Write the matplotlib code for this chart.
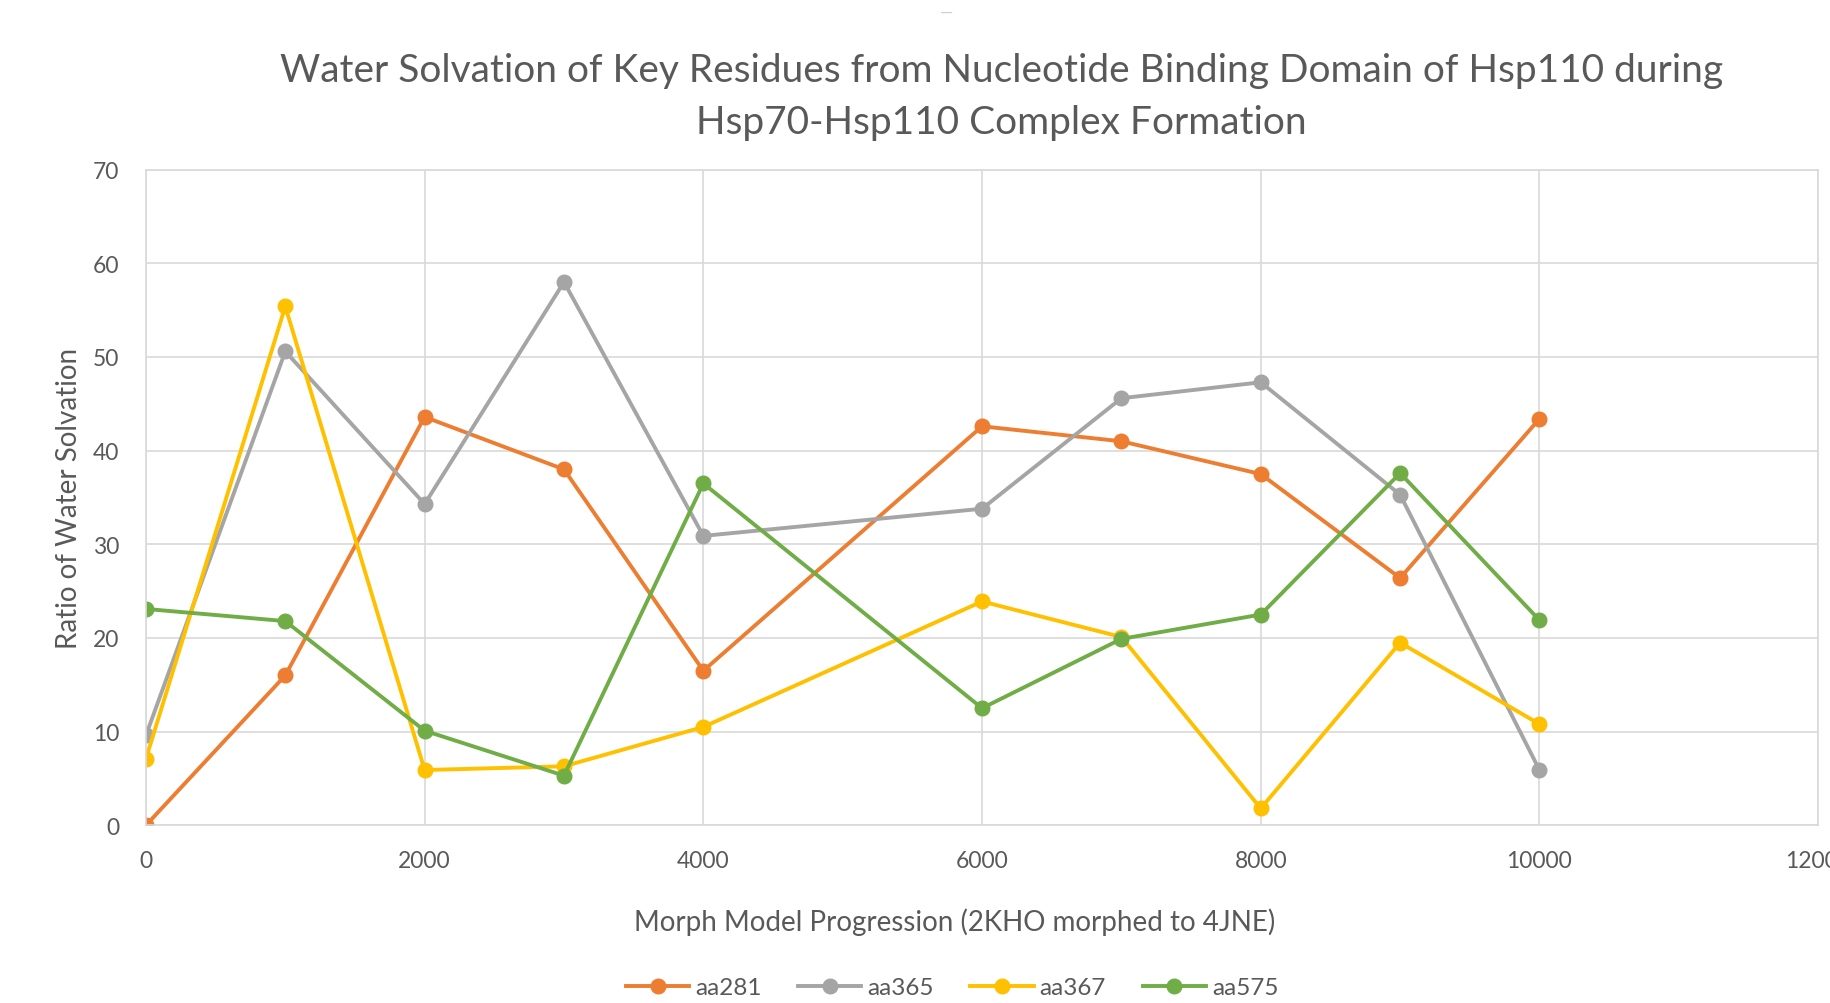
import matplotlib.pyplot as plt

plt.rcParams['font.family'] = ['Lato', 'DejaVu Sans']

steps = [0, 1000, 2000, 3000, 4000, 6000, 7000, 8000, 9000, 10000]
aa281 = [0, 16, 43.6, 38, 16.5, 42.6, 41, 37.5, 26.4, 43.4]
aa365 = [9.6, 50.6, 34.3, 58, 30.9, 33.8, 45.6, 47.3, 35.3, 5.9]
aa367 = [7.1, 55.4, 5.9, 6.3, 10.5, 23.9, 20.1, 1.8, 19.5, 10.8]
aa575 = [23.1, 21.8, 10.1, 5.3, 36.5, 12.5, 19.9, 22.5, 37.6, 21.9]

series = [('aa281', aa281, '#ED7D31'),
          ('aa365', aa365, '#A5A5A5'),
          ('aa367', aa367, '#FFC000'),
          ('aa575', aa575, '#70AD47')]

fig = plt.figure(figsize=(18.31, 10.04), dpi=100)
ax = fig.add_axes([0.0797, 0.177, 0.9133, 0.653])

for name, vals, col in series:
    ax.plot(steps, vals, color=col, lw=2.8, marker='o', ms=10.5, label=name)

ax.set_xlim(0, 12000)
ax.set_ylim(0, 70)
ax.set_xticks(range(0, 12001, 2000))
ax.set_yticks(range(0, 71, 10))
ax.grid(True, color='#d9d9d9', lw=1.2)
ax.set_axisbelow(True)
for s in ax.spines.values():
    s.set_color('#d9d9d9')
    s.set_linewidth(1.2)
ax.tick_params(length=0, labelsize=16.5, labelcolor='#595959')
ax.tick_params(axis='x', pad=18)
ax.tick_params(axis='y', pad=19)

ax.set_xlabel('Morph Model Progression (2KHO morphed to 4JNE)', fontsize=20, color='#595959')
ax.xaxis.set_label_coords(0.4836, -0.125)
ax.set_ylabel('Ratio of Water Solvation', fontsize=20, color='#595959')
ax.yaxis.set_label_coords(-0.038, 0.5)
fig.text(0.547, 0.903,
         'Water Solvation of Key Residues from Nucleotide Binding Domain of Hsp110 during\nHsp70-Hsp110 Complex Formation',
         ha='center', va='center', fontsize=28, color='#595959', linespacing=1.55)
fig.text(0.517, 0.987, '—', ha='center', va='center', fontsize=12, color='#cfcfcf')

fig.legend(loc='center', bbox_to_anchor=(0.52, 0.015), ncol=4, frameon=False,
           fontsize=17.5, labelcolor='#595959', handlelength=2.6, columnspacing=1.5, handletextpad=0.25)

fig.savefig('out.png', dpi=100)
